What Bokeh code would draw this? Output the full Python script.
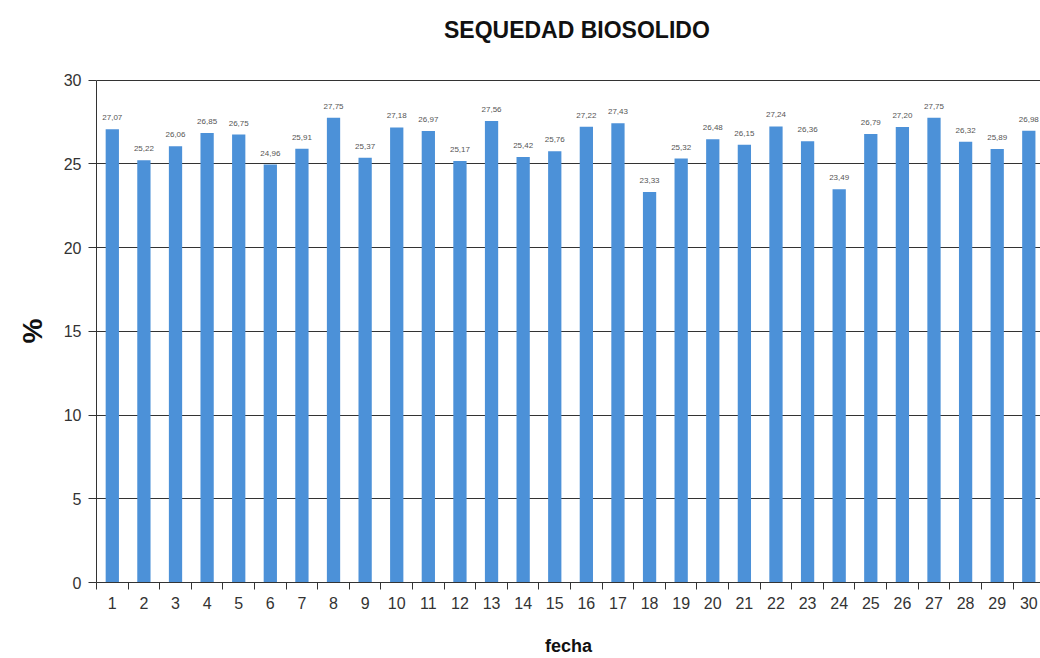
from bokeh.plotting import figure
from bokeh.models import ColumnDataSource, FixedTicker, Range1d, Title
from bokeh.core.properties import value
from bokeh.embed import file_html
from bokeh.resources import INLINE

days = list(range(1, 31))
sequedad = [27.07, 25.22, 26.06, 26.85, 26.75, 24.96, 25.91, 27.75, 25.37, 27.18,
            26.97, 25.17, 27.56, 25.42, 25.76, 27.22, 27.43, 23.33, 25.32, 26.48,
            26.15, 27.24, 26.36, 23.49, 26.79, 27.20, 27.75, 26.32, 25.89, 26.98]
y_ticks = [0, 5, 10, 15, 20, 25, 30]
title_text = "SEQUEDAD BIOSOLIDO"

labels = [f"{v:.2f}".replace(".", ",") for v in sequedad]
src = ColumnDataSource(dict(x=days, top=sequedad, lab=labels))

FONT = "Liberation Sans"

# frame spans the full height above the axis; the value axis is bounded to 0..30
p = figure(width=1040, height=658, output_backend="svg", toolbar_location=None,
           x_range=Range1d(0.5, 30.37), y_range=Range1d(0, 34.76),
           min_border_left=96, min_border_right=0, min_border_top=0, min_border_bottom=71)
p.outline_line_color = None
p.background_fill_color = "white"

# chart title, drawn above the 0..30 value band
p.text(x=[15.7], y=[32.98], text=[title_text], text_align="center", text_baseline="middle",
       text_font=value(FONT), text_font_size="23px", text_font_style="bold", text_color="#111111")

p.vbar(x="x", top="top", width=0.42, source=src, color="#4C91D8", line_color=None)
p.text(x="x", y="top", text="lab", source=src, text_align="center", text_baseline="bottom",
       y_offset=-9, text_font=value(FONT), text_font_size="8px", text_color="#555555")

# x axis
p.xaxis.ticker = FixedTicker(ticks=days, minor_ticks=[d - 0.5 for d in days] + [30.5])
p.xaxis.major_tick_line_color = None
p.xaxis.minor_tick_line_color = "#333333"
p.xaxis.minor_tick_out = 7
p.xaxis.minor_tick_in = 0
p.xaxis.axis_line_color = "#333333"
p.xaxis.major_label_text_font = FONT
p.xaxis.major_label_text_font_size = "16px"
p.xaxis.major_label_text_color = "#333333"
p.xaxis.major_label_standoff = 7
p.xaxis.axis_label = "fecha"
p.xaxis.axis_label_text_font = FONT
p.xaxis.axis_label_text_font_size = "18px"
p.xaxis.axis_label_text_font_style = "bold"
p.xaxis.axis_label_text_color = "#111111"
p.xaxis.axis_label_standoff = 24

# y axis
p.yaxis.bounds = (0, 30)
p.yaxis.ticker = FixedTicker(ticks=y_ticks, minor_ticks=[])
p.yaxis.major_tick_line_color = "#333333"
p.yaxis.major_tick_out = 8
p.yaxis.major_tick_in = 0
p.yaxis.axis_line_color = "#333333"
p.yaxis.major_label_text_font = FONT
p.yaxis.major_label_text_font_size = "16px"
p.yaxis.major_label_text_color = "#333333"
p.yaxis.major_label_standoff = 7

ylab = Title(text="%", align="left", offset=239, text_font=FONT, text_font_size="28px",
             text_font_style="bold", text_color="#111111", standoff=26)
p.add_layout(ylab, "left")

p.xgrid.grid_line_color = None
p.ygrid.ticker = FixedTicker(ticks=y_ticks)
p.ygrid.grid_line_color = "#333333"
p.ygrid.grid_line_width = 1
p.ygrid.level = "underlay"

open("out.html", "w").write(file_html(p, INLINE))
